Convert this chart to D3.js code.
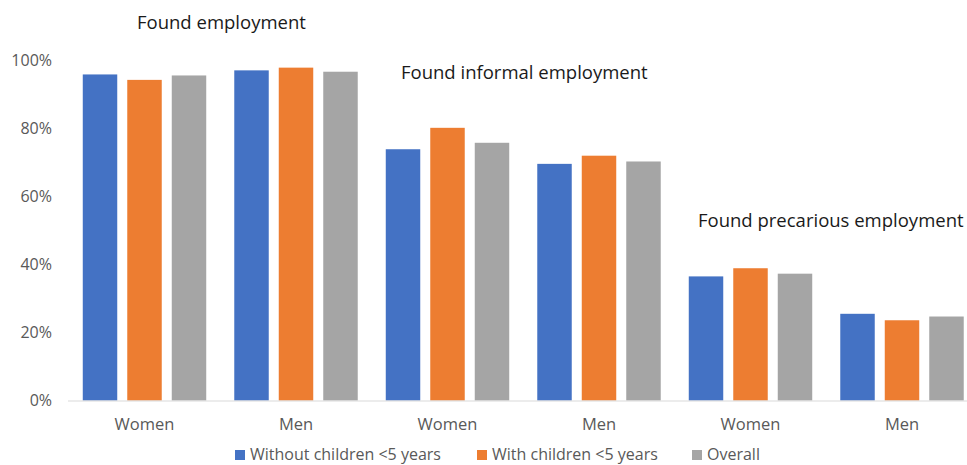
<!DOCTYPE html>
<html lang="en">
<head>
    <meta charset="UTF-8">
    <title>employment</title>
    <script src="https://d3js.org/d3.v7.min.js"></script>
    <style>
        body { margin: 0; background: #fff; }
        text { font-family: "Open Sans", sans-serif; }
    </style>
</head>
<body>
    <div class="canvas"></div>
    <script>
      const categories = ['Women', 'Men', 'Women', 'Men', 'Women', 'Men'];
      const seriesNames = ['Without children <5 years', 'With children <5 years', 'Overall'];
      const withoutChildren = [95.9, 97.1, 73.9, 69.6, 36.5, 25.5];
      const withChildren = [94.3, 97.9, 80.2, 72.0, 38.9, 23.6];
      const overall = [95.6, 96.7, 75.8, 70.3, 37.3, 24.7];
      const yTicks = [0, 20, 40, 60, 80, 100];
      const annotations = [
        { text: 'Found employment', cat: 0 },
        { text: 'Found informal employment', cat: 2 },
        { text: 'Found precarious employment', cat: 4 }
      ];
      const colors = ['#4472C4', '#ED7D31', '#A5A5A5'];

      const width = 967;
      const height = 465;

      const svg = d3.select('.canvas')
                      .append('svg')
                      .attr('width', width)
                      .attr('height', height);

      const series = [withoutChildren, withChildren, overall];
      const rows = categories.map((c, i) => ({ i, cat: c, values: series.map(s => s[i]) }));

      const x = d3.scaleBand()
                    .domain(d3.range(categories.length))
                    .range([68.75, 977.75]);

      const xInner = d3.scaleBand()
                    .domain(d3.range(seriesNames.length))
                    .range([0, x.bandwidth()])
                    .paddingInner(0.225)
                    .paddingOuter(0.315);

      const y = d3.scaleLinear()
                    .domain([0, 100])
                    .range([400.5, 60.5]);

      // y tick labels
      const yAxis = d3.axisLeft(y)
                        .tickValues(yTicks)
                        .tickSize(0)
                        .tickPadding(0)
                        .tickFormat(d => d + '%');
      const yAxisG = svg.append('g')
                          .attr('transform', 'translate(52, 0)')
                          .call(yAxis);
      yAxisG.select('.domain').remove();
      yAxisG.selectAll('text')
            .attr('fill', '#595959')
            .style('font-size', '16px')
            .style('font-family', '"Open Sans", sans-serif');

      // bars
      const groups = svg.selectAll('g.grp')
                          .data(rows)
                          .enter()
                          .append('g')
                          .attr('class', 'grp')
                          .attr('transform', d => `translate(${x(d.i)}, 0)`);

      groups.selectAll('rect')
            .data(d => d.values.map((v, k) => ({ v, k })))
            .enter()
            .append('rect')
            .attr('x', d => xInner(d.k))
            .attr('width', xInner.bandwidth())
            .attr('y', d => y(d.v))
            .attr('height', d => y(0) - y(d.v))
            .style('fill', d => colors[d.k]);

      // x axis line
      svg.append('line')
          .attr('x1', 68)
          .attr('x2', 967)
          .attr('y1', y(0) + 0.5)
          .attr('y2', y(0) + 0.5)
          .attr('stroke', '#D9D9D9')
          .attr('stroke-width', 1);

      // category labels
      svg.selectAll('text.cat')
          .data(rows)
          .enter()
          .append('text')
          .attr('class', 'cat')
          .attr('x', d => x(d.i) + x.bandwidth() / 2)
          .attr('y', 430)
          .attr('text-anchor', 'middle')
          .attr('fill', '#595959')
          .style('font-size', '16.5px')
          .text(d => d.cat);

      // annotations
      const annPos = [[137, 29], [401, 79], [698, 227]];
      svg.selectAll('text.ann')
          .data(annotations)
          .enter()
          .append('text')
          .attr('class', 'ann')
          .attr('x', (d, i) => annPos[i][0])
          .attr('y', (d, i) => annPos[i][1])
          .attr('fill', '#1a1a1a')
          .style('font-size', '18.5px')
          .text(d => d.text);

      // legend
      const legendX = [235, 477, 692];
      const legend = svg.selectAll('g.leg')
                          .data(seriesNames)
                          .enter()
                          .append('g')
                          .attr('class', 'leg')
                          .attr('transform', (d, i) => `translate(${legendX[i]}, 450)`);
      legend.append('rect')
            .attr('width', 10)
            .attr('height', 10)
            .style('fill', (d, i) => colors[i]);
      legend.append('text')
            .attr('x', 15)
            .attr('y', 10)
            .attr('fill', '#595959')
            .style('font-size', '16px')
            .text(d => d);
    </script>
</body>
</html>
